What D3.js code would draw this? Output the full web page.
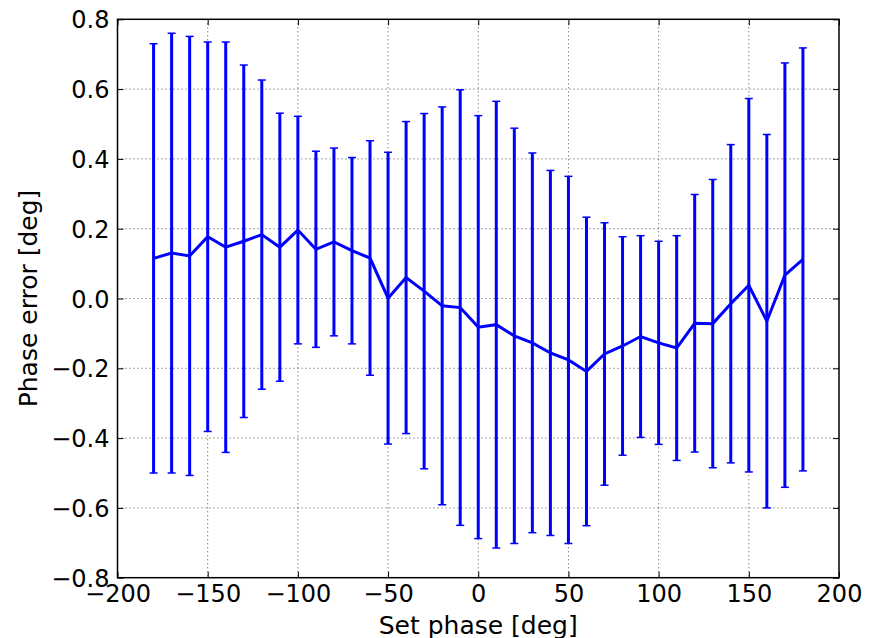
<!DOCTYPE html>
<html>
<head>
<meta charset="utf-8">
<script src="https://cdn.jsdelivr.net/npm/d3@7"></script>
<style>
  html, body { margin: 0; padding: 0; background: #fff; }
  svg { display: block; }
  text { font-family: "DejaVu Sans", sans-serif; fill: #000; }
</style>
</head>
<body>
<svg id="chart" width="875" height="638"></svg>
<script>
// ---- data ----
const setPhase = [-180,-170,-160,-150,-140,-130,-120,-110,-100,-90,-80,-70,-60,-50,-40,-30,-20,-10,
                  0,10,20,30,40,50,60,70,80,90,100,110,120,130,140,150,160,170,180];
const phaseError = [0.115,0.130,0.122,0.177,0.147,0.164,0.183,0.147,0.196,0.141,0.162,0.137,0.116,0.001,0.060,0.021,-0.021,-0.026,
                    -0.082,-0.075,-0.107,-0.127,-0.156,-0.176,-0.209,-0.159,-0.136,-0.109,-0.127,-0.142,-0.071,-0.072,-0.015,0.038,-0.065,0.067,0.112];
const errorSize = [0.615,0.630,0.629,0.558,0.588,0.505,0.443,0.384,0.326,0.281,0.269,0.267,0.336,0.418,0.447,0.509,0.570,0.624,
                   0.606,0.640,0.595,0.544,0.523,0.526,0.442,0.376,0.313,0.289,0.291,0.322,0.369,0.413,0.456,0.535,0.535,0.608,0.606];
const xTicks = [-200,-150,-100,-50,0,50,100,150,200];
const yTicks = [-0.8,-0.6,-0.4,-0.2,0.0,0.2,0.4,0.6,0.8];
const xLabel = "Set phase [deg]";
const yLabel = "Phase error [deg]";

// ---- layout ----
const svg = d3.select("#chart");
const L = 117.5, R = 839, T = 19.3, B = 577.7;
const x = d3.scaleLinear().domain([-200, 200]).range([L, R]);
const y = d3.scaleLinear().domain([-0.8, 0.8]).range([B, T]);
const blue = "#0000ff";
const minus = s => s.replace("-", "\u2212");

// grid
const g = svg.append("g");
g.selectAll("line.gx").data(xTicks.slice(1, -1)).join("line")
  .attr("x1", d => x(d)).attr("x2", d => x(d)).attr("y1", T).attr("y2", B)
  .attr("stroke", "#000").attr("stroke-width", 0.7).attr("stroke-dasharray", "1,3");
g.selectAll("line.gy").data(yTicks.slice(1, -1)).join("line")
  .attr("y1", d => y(d)).attr("y2", d => y(d)).attr("x1", L).attr("x2", R)
  .attr("stroke", "#000").attr("stroke-width", 0.7).attr("stroke-dasharray", "1,3");

// axes (ticks inward, labels)
const fmtX = d => minus(d3.format("d")(d));
const fmtY = d => minus(d3.format(".1f")(d));
const axB = svg.append("g").attr("transform", `translate(0,${B})`)
  .call(d3.axisBottom(x).tickValues(xTicks).tickFormat(fmtX).tickSize(-6).tickPadding(14));
const axL = svg.append("g").attr("transform", `translate(${L},0)`)
  .call(d3.axisLeft(y).tickValues(yTicks).tickFormat(fmtY).tickSize(-6).tickPadding(14));
const axT = svg.append("g").attr("transform", `translate(0,${T})`)
  .call(d3.axisTop(x).tickValues(xTicks).tickFormat("").tickSize(-6));
const axR = svg.append("g").attr("transform", `translate(${R},0)`)
  .call(d3.axisRight(y).tickValues(yTicks).tickFormat("").tickSize(-6));
[axB, axL, axT, axR].forEach(a => {
  a.select(".domain").remove();
  a.selectAll(".tick line").attr("stroke", "#000").attr("stroke-width", 1);
  a.selectAll(".tick text").style("font-family", "DejaVu Sans").style("font-size", "24px").attr("fill", "#000");
});
axB.selectAll(".tick text").attr("dy", "0.71em").attr("y", 7);
axL.selectAll(".tick text").attr("x", -8).attr("dy", "0.36em");

// frame
svg.append("rect").attr("x", L).attr("y", T).attr("width", R - L).attr("height", B - T)
  .attr("fill", "none").attr("stroke", "#000").attr("stroke-width", 1.5);

// error bars
const eb = svg.append("g");
const data = setPhase.map((p, i) => ({ p, v: phaseError[i], e: errorSize[i] }));
eb.selectAll("line.bar").data(data).join("line")
  .attr("x1", d => x(d.p)).attr("x2", d => x(d.p))
  .attr("y1", d => y(d.v - d.e)).attr("y2", d => y(d.v + d.e))
  .attr("stroke", blue).attr("stroke-width", 3);
const capW = 4;
eb.selectAll("line.capt").data(data).join("line")
  .attr("x1", d => x(d.p) - capW).attr("x2", d => x(d.p) + capW)
  .attr("y1", d => y(d.v + d.e)).attr("y2", d => y(d.v + d.e))
  .attr("stroke", blue).attr("stroke-width", 1.5);
eb.selectAll("line.capb").data(data).join("line")
  .attr("x1", d => x(d.p) - capW).attr("x2", d => x(d.p) + capW)
  .attr("y1", d => y(d.v - d.e)).attr("y2", d => y(d.v - d.e))
  .attr("stroke", blue).attr("stroke-width", 1.5);

// mean line
svg.append("path").datum(data)
  .attr("d", d3.line().x(d => x(d.p)).y(d => y(d.v)))
  .attr("fill", "none").attr("stroke", blue).attr("stroke-width", 3).attr("stroke-linejoin", "miter");

// axis labels
svg.append("text").attr("x", (L + R) / 2).attr("y", 634)
  .attr("text-anchor", "middle").style("font-size", "25px").text(xLabel);
svg.append("text").attr("transform", `translate(36.5,${(T + B) / 2}) rotate(-90)`)
  .attr("text-anchor", "middle").style("font-size", "25px").text(yLabel);
</script>
</body>
</html>
